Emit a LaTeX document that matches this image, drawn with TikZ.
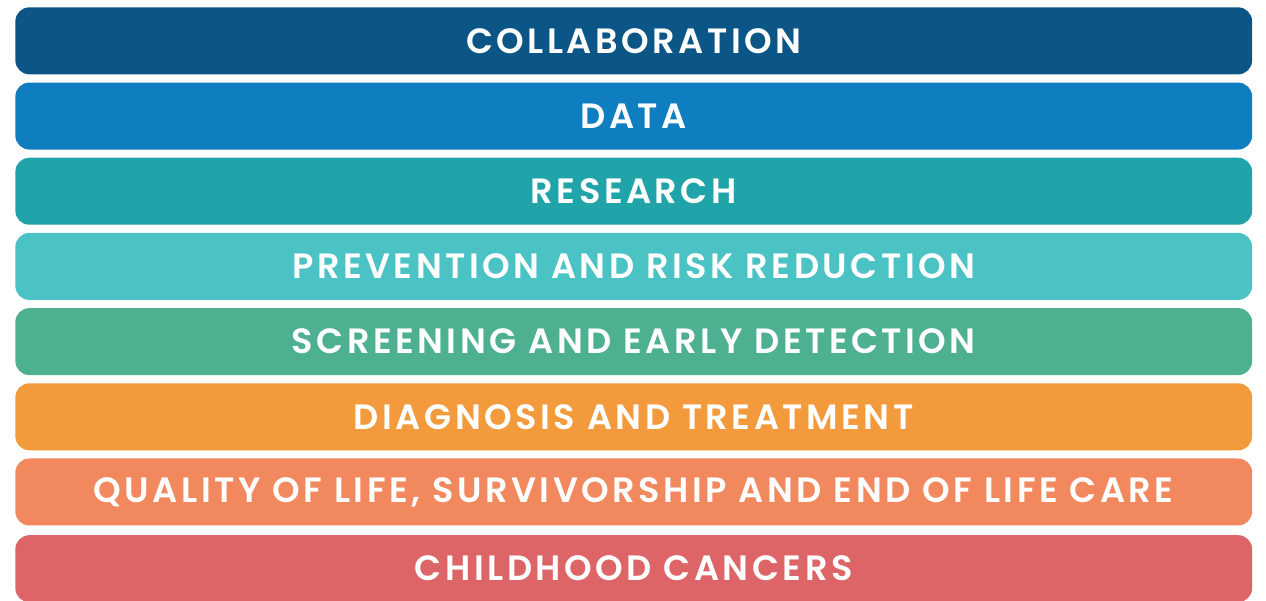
\documentclass[tikz,border=0pt]{standalone}
\usepackage{fontspec}
\setmainfont{Poppins}[LetterSpace=10,BoldFont={Poppins SemiBold}]
\usetikzlibrary{positioning}
\definecolor{navy}{RGB}{11,86,134}
\definecolor{datablue}{RGB}{15,126,192}
\definecolor{teal}{RGB}{32,164,170}
\definecolor{softteal}{RGB}{75,194,196}
\definecolor{seagreen}{RGB}{77,176,145}
\definecolor{orange}{RGB}{243,154,60}
\definecolor{salmon}{RGB}{241,136,94}
\definecolor{rose}{RGB}{221,101,103}
\begin{document}
\begin{tikzpicture}[x=0.02cm,y=-0.02cm,
bar/.style={rounded corners=0.28cm,align=center,inner sep=0pt,
minimum width=24.74cm,minimum height=1.34cm,text=white,
font=\fontsize{20}{22}\selectfont\bfseries},
node distance=0.15cm]
\useasboundingbox (0,0) rectangle (1266,600);
\node[bar,fill=navy,anchor=north west] (collab) at (15,7) {COLLABORATION};
\node[bar,fill=datablue,below=of collab] (data) {DATA};
\node[bar,fill=teal,below=of data] (research) {RESEARCH};
\node[bar,fill=softteal,below=of research] (prevent) {PREVENTION AND RISK REDUCTION};
\node[bar,fill=seagreen,below=of prevent] (screen) {SCREENING AND EARLY DETECTION};
\node[bar,fill=orange,below=of screen] (diag) {DIAGNOSIS AND TREATMENT};
\node[bar,fill=salmon,below=of diag] (quality) {QUALITY OF LIFE, SURVIVORSHIP AND END OF LIFE CARE};
\node[bar,fill=rose,below=of quality,yshift=-0.03cm] (child) {CHILDHOOD CANCERS};
\end{tikzpicture}
\end{document}
